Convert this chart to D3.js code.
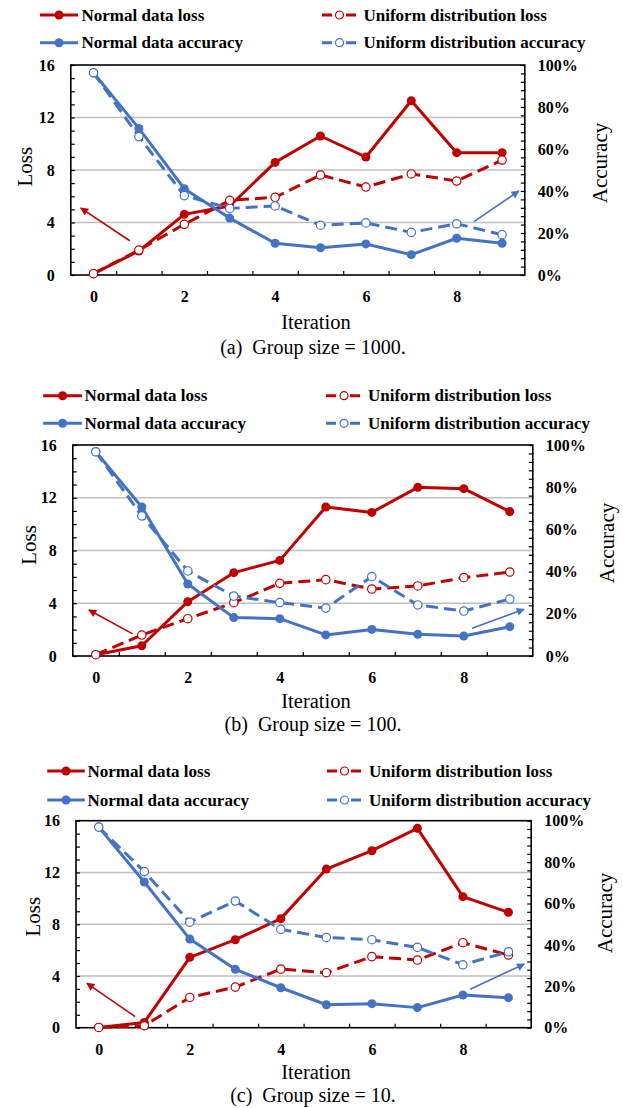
<!DOCTYPE html>
<html lang="en">
<head>
<meta charset="UTF-8">
<title>Loss and accuracy per iteration</title>
<style>
  body { margin: 0; background: #fff; }
  svg text { font-family: "Liberation Serif", "DejaVu Serif", "Times New Roman", serif; }
</style>
</head>
<body>
<div id="chart"></div>
<script src="https://d3js.org/d3.v7.min.js"></script>
<script>
// ---- data ----
var iterations = [0, 1, 2, 3, 4, 5, 6, 7, 8, 9];
var xTickLabels = [0, 2, 4, 6, 8];
var lossTicks = [0, 4, 8, 12, 16];
var accTicks = [0, 0.2, 0.4, 0.6, 0.8, 1];
var seriesNames = ["Normal data loss", "Uniform distribution loss",
                   "Normal data accuracy", "Uniform distribution accuracy"];

// group size = 1000
var lossNormal1000  = [0.1, 1.83, 4.62, 5.26, 8.58, 10.59, 8.99, 13.28, 9.32, 9.32];
var lossUniform1000 = [0.1, 1.9, 3.86, 5.69, 5.92, 7.62, 6.70, 7.70, 7.16, 8.76];
var accNormal1000   = [0.963, 0.698, 0.411, 0.271, 0.151, 0.130, 0.148, 0.097, 0.175, 0.151];
var accUniform1000  = [0.963, 0.659, 0.378, 0.317, 0.329, 0.237, 0.248, 0.203, 0.244, 0.192];

// group size = 100
var lossNormal100  = [0.1, 0.78, 4.12, 6.32, 7.25, 11.30, 10.89, 12.79, 12.69, 10.95];
var lossUniform100 = [0.1, 1.59, 2.83, 4.04, 5.51, 5.79, 5.08, 5.31, 5.94, 6.37];
var accNormal100   = [0.968, 0.706, 0.341, 0.182, 0.177, 0.100, 0.126, 0.103, 0.095, 0.139];
var accUniform100  = [0.968, 0.664, 0.403, 0.284, 0.253, 0.227, 0.376, 0.242, 0.213, 0.270];

// group size = 10
var lossNormal10  = [0.02, 0.41, 5.44, 6.80, 8.43, 12.26, 13.68, 15.41, 10.13, 8.92];
var lossUniform10 = [0.02, 0.15, 2.34, 3.14, 4.53, 4.25, 5.49, 5.23, 6.57, 5.62];
var accNormal10   = [0.969, 0.704, 0.428, 0.282, 0.193, 0.111, 0.116, 0.097, 0.158, 0.145];
var accUniform10  = [0.969, 0.754, 0.510, 0.612, 0.475, 0.436, 0.425, 0.388, 0.304, 0.367];

// annotation arrows, in (iteration, loss) units: [x0, y0, x1, y1]
var arrows1000 = [[0.80, 2.61, -0.28, 5.1], [8.38, 4.06, 9.37, 6.4]];
var arrows100  = [[0.80, 1.68, -0.15, 3.49], [8.18, 2.1, 9.31, 3.54]];
var arrows10   = [[0.80, 0.85, -0.26, 3.43], [8.16, 2.97, 9.35, 4.92]];

var captions = ["(a)  Group size = 1000.", "(b)  Group size = 100.", "(c)  Group size = 10."];

var RED = "#c00000", BLUE = "#4472c4";
var SERIF = "'Liberation Serif', 'DejaVu Serif', 'Times New Roman', serif";

// ---- layout of the three panels ----
var panels = [
  { left: 70.8, right: 524.8, top: 65, bottom: 275,
    legY: [15, 42.7], legX: [40, 78, 81.5, 322, 357, 363.5],
    lossX: 32, lossY: 166.7, accX: 607, accY: 163, iterY: 329, capY: 353.5,
    loss: [lossNormal1000, lossUniform1000], acc: [accNormal1000, accUniform1000],
    arrows: arrows1000, caption: captions[0] },
  { left: 72.8, right: 532.8, top: 445, bottom: 656,
    legY: [395.7, 423.3], legX: [43.2, 82, 84.5, 326, 362, 368],
    lossX: 36, lossY: 545, accX: 614, accY: 543, iterY: 708, capY: 731,
    loss: [lossNormal100, lossUniform100], acc: [accNormal100, accUniform100],
    arrows: arrows100, caption: captions[1] },
  { left: 76, right: 531.2, top: 820.7, bottom: 1027.7,
    legY: [771, 800], legX: [47.2, 84.8, 87.5, 327, 362, 369],
    lossX: 40, lossY: 916.7, accX: 612, accY: 913, iterY: 1079, capY: 1101.5,
    loss: [lossNormal10, lossUniform10], acc: [accNormal10, accUniform10],
    arrows: arrows10, caption: captions[2] }
];

var svg = d3.select("#chart").append("svg")
    .attr("width", 623)
    .attr("height", 1108);

var defs = svg.append("defs");
[["arrRed", RED], ["arrBlue", BLUE]].forEach(function (m) {
  defs.append("marker")
      .attr("id", m[0])
      .attr("viewBox", "0 0 10 10")
      .attr("refX", 9).attr("refY", 5)
      .attr("markerWidth", 9).attr("markerHeight", 8)
      .attr("markerUnits", "userSpaceOnUse")
      .attr("orient", "auto")
    .append("path")
      .attr("d", "M0,0 L10,5 L0,10 Z")
      .attr("fill", m[1]);
});

panels.forEach(drawPanel);

function drawPanel(p) {
  var g = svg.append("g");

  var x = d3.scaleLinear().domain([-0.5, 9.5]).range([p.left, p.right]);
  var yLoss = d3.scaleLinear().domain([0, 16]).range([p.bottom, p.top]);
  var yAcc = d3.scaleLinear().domain([0, 1]).range([p.bottom, p.top]);

  // gridlines
  g.selectAll(".grid")
    .data([4, 8, 12])
    .join("line")
      .attr("x1", p.left).attr("x2", p.right)
      .attr("y1", d => yLoss(d)).attr("y2", d => yLoss(d))
      .attr("stroke", "#bfbfbf")
      .attr("stroke-width", 1.5);

  // inner minor ticks
  var minor = function (sel) {
    sel.select(".domain").remove();
    sel.selectAll("line").attr("stroke", "#000").attr("stroke-width", 1.2);
  };
  g.append("g")
    .attr("transform", `translate(${p.left},0)`)
    .call(d3.axisRight(yLoss).tickValues(d3.range(0, 17)).tickSize(4).tickFormat(""))
    .call(minor);
  g.append("g")
    .attr("transform", `translate(${p.right},0)`)
    .call(d3.axisLeft(yAcc).tickValues(d3.range(0, 26).map(d => d * 0.04)).tickSize(4).tickFormat(""))
    .call(minor);
  g.append("g")
    .attr("transform", `translate(0,${p.bottom})`)
    .call(d3.axisTop(x).tickValues(iterations.slice(1).map(d => d - 0.5)).tickSize(4).tickFormat(""))
    .call(minor);

  // tick labels
  var labels = function (sel) {
    sel.select(".domain").remove();
    sel.attr("font-family", SERIF);
    sel.selectAll("text")
      .attr("font-size", 16)
      .attr("font-weight", "bold")
      .attr("fill", "#000")
      .style("font-family", SERIF);
  };
  g.append("g")
    .attr("transform", `translate(${p.left},0)`)
    .call(d3.axisLeft(yLoss).tickValues(lossTicks).tickSize(0).tickPadding(16))
    .call(labels);
  g.append("g")
    .attr("transform", `translate(${p.right},0)`)
    .call(d3.axisRight(yAcc).tickValues(accTicks).tickSize(0).tickPadding(13).tickFormat(d3.format(".0%")))
    .call(labels);
  g.append("g")
    .attr("transform", `translate(0,${p.bottom})`)
    .call(d3.axisBottom(x).tickValues(xTickLabels).tickSize(0).tickPadding(15.6))
    .call(labels);

  // frame
  g.append("rect")
    .attr("x", p.left).attr("y", p.top)
    .attr("width", p.right - p.left).attr("height", p.bottom - p.top)
    .attr("fill", "none")
    .attr("stroke", "#000")
    .attr("stroke-width", 1.6);

  // axis titles
  g.append("text")
    .attr("transform", `translate(${p.lossX},${p.lossY}) rotate(-90)`)
    .attr("text-anchor", "middle")
    .attr("font-size", 21)
    .style("font-family", SERIF)
    .text("Loss");
  g.append("text")
    .attr("transform", `translate(${p.accX},${p.accY}) rotate(-90)`)
    .attr("text-anchor", "middle")
    .attr("font-size", 21)
    .style("font-family", SERIF)
    .text("Accuracy");
  g.append("text")
    .attr("x", 316).attr("y", p.iterY)
    .attr("text-anchor", "middle")
    .attr("font-size", 20.5)
    .style("font-family", SERIF)
    .text("Iteration");
  g.append("text")
    .attr("x", 313).attr("y", p.capY)
    .attr("text-anchor", "middle")
    .attr("font-size", 20)
    .style("font-family", SERIF)
    .style("white-space", "pre")
    .text(p.caption);

  // arrows
  g.selectAll(".arrow")
    .data(p.arrows)
    .join("line")
      .attr("x1", d => x(d[0])).attr("y1", d => yLoss(d[1]))
      .attr("x2", d => x(d[2])).attr("y2", d => yLoss(d[3]))
      .attr("stroke", (d, i) => i === 0 ? RED : BLUE)
      .attr("stroke-width", 1.6)
      .attr("marker-end", (d, i) => i === 0 ? "url(#arrRed)" : "url(#arrBlue)");

  // series
  var series = [
    { vals: p.loss[0], y: yLoss, color: RED, dash: null, open: false },
    { vals: p.loss[1], y: yLoss, color: RED, dash: "12,6", open: true },
    { vals: p.acc[0], y: yAcc, color: BLUE, dash: null, open: false },
    { vals: p.acc[1], y: yAcc, color: BLUE, dash: "12,6", open: true }
  ];
  series.forEach(function (s) {
    var line = d3.line()
      .x((d, i) => x(iterations[i]))
      .y(d => s.y(d));
    g.append("path")
      .datum(s.vals)
      .attr("d", line)
      .attr("fill", "none")
      .attr("stroke", s.color)
      .attr("stroke-width", 3)
      .attr("stroke-linejoin", "round")
      .attr("stroke-dasharray", s.dash);
    g.selectAll(null)
      .data(s.vals)
      .join("circle")
        .attr("cx", (d, i) => x(iterations[i]))
        .attr("cy", d => s.y(d))
        .attr("r", s.open ? 4.2 : 4.5)
        .attr("fill", s.open ? "#fff" : s.color)
        .attr("stroke", s.color)
        .attr("stroke-width", s.open ? 1.2 : 0);
  });

  // legend
  var leg = [
    { name: seriesNames[0], row: 0, col: 0, color: RED, dash: null, open: false },
    { name: seriesNames[1], row: 0, col: 1, color: RED, dash: "10,14", open: true },
    { name: seriesNames[2], row: 1, col: 0, color: BLUE, dash: null, open: false },
    { name: seriesNames[3], row: 1, col: 1, color: BLUE, dash: "10,14", open: true }
  ];
  var item = g.selectAll(".leg")
    .data(leg)
    .join("g")
      .attr("transform", d => `translate(0,${p.legY[d.row]})`);
  item.append("line")
    .attr("x1", d => p.legX[d.col * 3]).attr("x2", d => p.legX[d.col * 3 + 1])
    .attr("stroke", d => d.color)
    .attr("stroke-width", 3)
    .attr("stroke-dasharray", d => d.dash);
  item.append("circle")
    .attr("cx", d => (p.legX[d.col * 3] + p.legX[d.col * 3 + 1]) / 2)
    .attr("r", d => d.open ? 4 : 4.5)
    .attr("fill", d => d.open ? "#fff" : d.color)
    .attr("stroke", d => d.color)
    .attr("stroke-width", d => d.open ? 1.2 : 0);
  item.append("text")
    .attr("x", d => p.legX[d.col * 3 + 2])
    .attr("dy", "0.34em")
    .attr("font-size", 17)
    .attr("font-weight", "bold")
    .style("font-family", SERIF)
    .text(d => d.name);
}
</script>
</body>
</html>
